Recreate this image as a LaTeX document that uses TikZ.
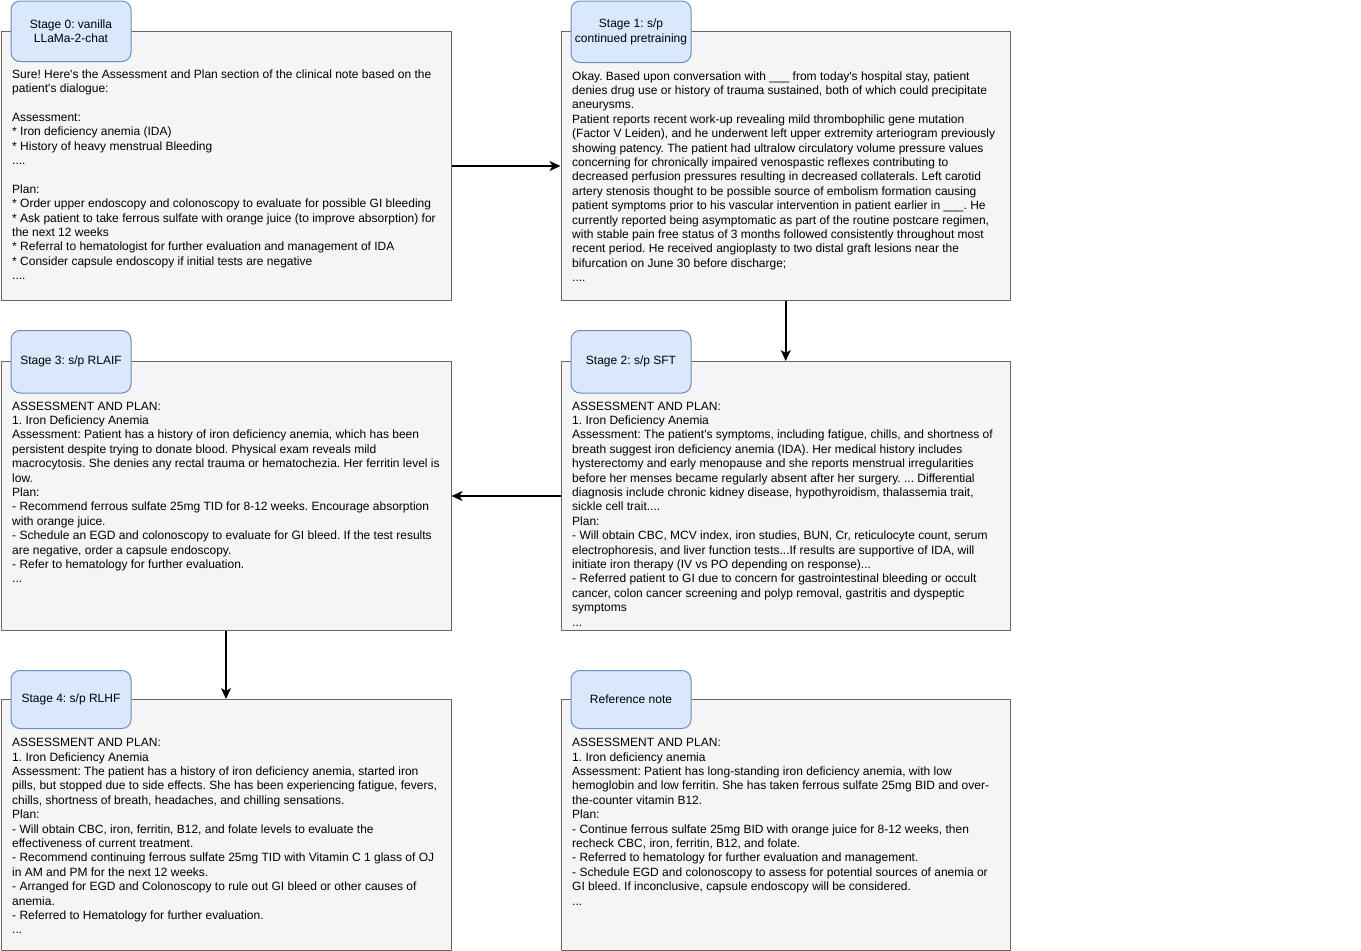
\documentclass[tikz,border=0pt]{standalone}
\usepackage{fontspec}
\setmainfont{Liberation Sans}
\usetikzlibrary{arrows.meta}
\definecolor{boxfill}{HTML}{F5F5F5}
\definecolor{boxline}{HTML}{666666}
\definecolor{labfill}{HTML}{DAE8FC}
\definecolor{labline}{HTML}{6C8EBF}
\newcommand{\ap}{\textquotesingle}
\newcommand{\blnk}{\_\_\_}
\frenchspacing
\begin{document}
\frenchspacing
\begin{tikzpicture}[x=1pt,y=-1pt,
  notebox/.style={draw=boxline,fill=boxfill,line width=1pt,inner sep=0pt,anchor=north west},
  stagelabel/.style={draw=labline,fill=labfill,line width=1pt,rounded corners=9pt,inner sep=0pt,
    anchor=north west,minimum width=120pt,align=center,
    font=\fontsize{12}{14.4}\selectfont},
  notetext/.style={anchor=north west,inner sep=0pt,align=left,
    font=\fontsize{12}{14.4}\selectfont\frenchspacing},
  arr/.style={line width=1.5pt,-{Stealth[length=11pt,width=10pt,inset=3pt]}}]
\useasboundingbox (0,0) rectangle (1361,951);

% big boxes
\node[notebox,minimum width=450pt,minimum height=269pt] (b0) at (0.5,31) {};
\node[notebox,minimum width=449.5pt,minimum height=269pt] (b1) at (560.5,31) {};
\node[notebox,minimum width=450pt,minimum height=269pt] (b3) at (0.5,361) {};
\node[notebox,minimum width=449.5pt,minimum height=269pt] (b2) at (560.5,361) {};
\node[notebox,minimum width=450pt,minimum height=251pt] (b4) at (0.5,699) {};
\node[notebox,minimum width=449.5pt,minimum height=251pt] (b5) at (560.5,699) {};

% labels
\node[stagelabel,minimum height=60.5pt] (l0) at (10.5,0.5) {Stage 0: vanilla\\LLaMa-2-chat};
\node[stagelabel,minimum height=61.5pt] (l1) at (570.5,0.5) {Stage 1: s/p\\continued pretraining};
\node[stagelabel,minimum height=62.5pt] (l3) at (10.5,330) {Stage 3: s/p RLAIF};
\node[stagelabel,minimum height=62.5pt] (l2) at (570.5,330) {Stage 2: s/p SFT};
\node[stagelabel,minimum height=58pt] (l4) at (10.5,670) {Stage 4: s/p RLHF};
\node[stagelabel,minimum height=58pt] (l5) at (570.5,670) {Reference note};

% texts
\node[notetext] (t0) at (12,67.9) {\strut Sure! Here\ap{}s the Assessment and Plan section of the clinical note based on the\\
patient\ap{}s dialogue:\\[14.4pt]
Assessment:\\
* Iron deficiency anemia (IDA)\\
* History of heavy menstrual Bleeding\\
....\\[14.4pt]
Plan:\\
* Order upper endoscopy and colonoscopy to evaluate for possible GI bleeding\\
* Ask patient to take ferrous sulfate with orange juice (to improve absorption) for\\
the next 12 weeks\\
* Referral to hematologist for further evaluation and management of IDA\\
* Consider capsule endoscopy if initial tests are negative\\
....};

\node[notetext] (t1) at (572,69.9) {\strut Okay. Based upon conversation with \blnk{} from today\ap{}s hospital stay, patient\\
denies drug use or history of trauma sustained, both of which could precipitate\\
aneurysms.\\
Patient reports recent work-up revealing mild thrombophilic gene mutation\\
(Factor V Leiden), and he underwent left upper extremity arteriogram previously\\
showing patency. The patient had ultralow circulatory volume pressure values\\
concerning for chronically impaired venospastic reflexes contributing to\\
decreased perfusion pressures resulting in decreased collaterals. Left carotid\\
artery stenosis thought to be possible source of embolism formation causing\\
patient symptoms prior to his vascular intervention in patient earlier in \blnk. He\\
currently reported being asymptomatic as part of the routine postcare regimen,\\
with stable pain free status of 3 months followed consistently throughout most\\
recent period. He received angioplasty to two distal graft lesions near the\\
bifurcation on June 30 before discharge;\\
....};

\node[notetext] (t3) at (12,399.9) {\strut ASSESSMENT AND PLAN:\\
1. Iron Deficiency Anemia\\
Assessment: Patient has a history of iron deficiency anemia, which has been\\
persistent despite trying to donate blood. Physical exam reveals mild\\
macrocytosis. She denies any rectal trauma or hematochezia. Her ferritin level is\\
low.\\
Plan:\\
- Recommend ferrous sulfate 25mg TID for 8-12 weeks. Encourage absorption\\
with orange juice.\\
- Schedule an EGD and colonoscopy to evaluate for GI bleed. If the test results\\
are negative, order a capsule endoscopy.\\
- Refer to hematology for further evaluation.\\
...};

\node[notetext] (t2) at (572,399.9) {\strut ASSESSMENT AND PLAN:\\
1. Iron Deficiency Anemia\\
Assessment: The patient\ap{}s symptoms, including fatigue, chills, and shortness of\\
breath suggest iron deficiency anemia (IDA). Her medical history includes\\
hysterectomy and early menopause and she reports menstrual irregularities\\
before her menses became regularly absent after her surgery. ... Differential\\
diagnosis include chronic kidney disease, hypothyroidism, thalassemia trait,\\
sickle cell trait....\\
Plan:\\
- Will obtain CBC, MCV index, iron studies, BUN, Cr, reticulocyte count, serum\\
electrophoresis, and liver function tests...If results are supportive of IDA, will\\
initiate iron therapy (IV vs PO depending on response)...\\
- Referred patient to GI due to concern for gastrointestinal bleeding or occult\\
cancer, colon cancer screening and polyp removal, gastritis and dyspeptic\\
symptoms\\
...};

\node[notetext] (t4) at (12,736.4) {\strut ASSESSMENT AND PLAN:\\
1. Iron Deficiency Anemia\\
Assessment: The patient has a history of iron deficiency anemia, started iron\\
pills, but stopped due to side effects. She has been experiencing fatigue, fevers,\\
chills, shortness of breath, headaches, and chilling sensations.\\
Plan:\\
- Will obtain CBC, iron, ferritin, B12, and folate levels to evaluate the\\
effectiveness of current treatment.\\
- Recommend continuing ferrous sulfate 25mg TID with Vitamin C 1 glass of OJ\\
in AM and PM for the next 12 weeks.\\
- Arranged for EGD and Colonoscopy to rule out GI bleed or other causes of\\
anemia.\\
- Referred to Hematology for further evaluation.\\
...};

\node[notetext] (t5) at (572,736.4) {\strut ASSESSMENT AND PLAN:\\
1. Iron deficiency anemia\\
Assessment: Patient has long-standing iron deficiency anemia, with low\\
hemoglobin and low ferritin. She has taken ferrous sulfate 25mg BID and over-\\
the-counter vitamin B12.\\
Plan:\\
- Continue ferrous sulfate 25mg BID with orange juice for 8-12 weeks, then\\
recheck CBC, iron, ferritin, B12, and folate.\\
- Referred to hematology for further evaluation and management.\\
- Schedule EGD and colonoscopy to assess for potential sources of anemia or\\
GI bleed. If inconclusive, capsule endoscopy will be considered.\\
...};

% connectors
\draw[arr] (b0.east) -- (b0.east -| b1.west);
\draw[arr] (b1.south) -- (b1.south |- b2.north);
\draw[arr] (b2.west) -- (b2.west -| b3.east);
\draw[arr] (b3.south) -- (b3.south |- b4.north);
\end{tikzpicture}
\end{document}
